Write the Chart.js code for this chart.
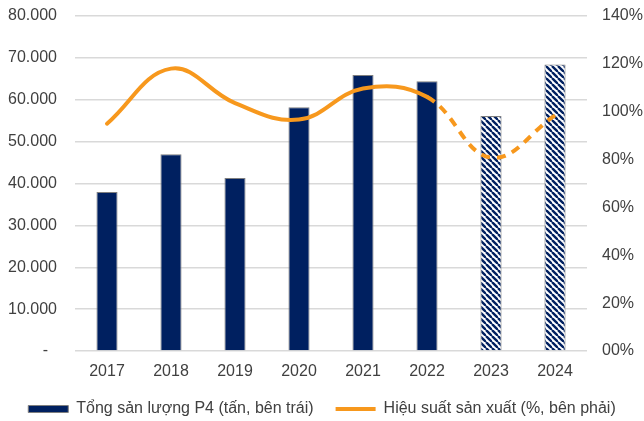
<!DOCTYPE html>
<html>
<head>
<meta charset="utf-8">
<script src="https://cdn.jsdelivr.net/npm/chart.js@4"></script>
<style>
  html, body { margin: 0; padding: 0; background: #fff; }
  #wrap { width: 644px; height: 421px; }
</style>
</head>
<body>
<div id="wrap"><canvas id="myChart"></canvas></div>
<script>
const years = ['2017', '2018', '2019', '2020', '2021', '2022', '2023', '2024'];
const output = [38000, 47000, 41300, 58200, 65900, 64400, 56100, 68400];
const efficiency = [95, 118, 103.6, 96.7, 109.7, 106.2, 80.8, 98.5];
const forecastFrom = 6; // 2023 onwards are forecast (hatched bars, dashed line)

const navy = '#002060';
const orange = '#F7981D';

function makeHatch() {
    const c = document.createElement('canvas');
    c.width = 6; c.height = 6;
    const g = c.getContext('2d');
    g.fillStyle = '#fff';
    g.fillRect(0, 0, 6, 6);
    g.strokeStyle = navy;
    g.lineWidth = 2.4;
    for (const o of [-6, 0, 6]) {
        g.beginPath();
        g.moveTo(o, 0);
        g.lineTo(o + 6, 6);
        g.stroke();
    }
    return g.createPattern(c, 'repeat');
}
const hatch = makeHatch();

Chart.defaults.font.family = '"Liberation Sans", Arial, sans-serif';
Chart.defaults.color = '#404040';

// y axes: fixed width, and drop the extra label padding Chart.js adds above/below
const fixAxis = w => s => {
    s.width = w;
    s.paddingTop = 0;
    s.paddingBottom = 0;
};

const data = {
    labels: years,
    datasets: [
        {
            type: 'bar',
            label: 'Tổng sản lượng P4 (tấn, bên trái)',
            data: output,
            yAxisID: 'y',
            order: 1,
            backgroundColor: output.map((v, i) => i >= forecastFrom ? hatch : navy),
            borderColor: '#7f7f7f',
            borderWidth: 1,
            categoryPercentage: 1,
            barPercentage: 0.33,
            pointStyle: 'rect',
        },
        {
            type: 'line',
            label: 'Hiệu suất sản xuất (%, bên phải)',
            data: efficiency,
            yAxisID: 'y1',
            order: 0,
            borderColor: orange,
            backgroundColor: orange,
            borderWidth: 4,
            tension: 0.4,
            pointRadius: 0,
            pointStyle: 'line',
            borderCapStyle: 'round',
            segment: {
                borderDash: ctx => ctx.p0DataIndex >= forecastFrom - 1 ? [9, 7] : undefined,
                borderCapStyle: ctx => ctx.p0DataIndex >= forecastFrom - 1 ? 'butt' : 'round',
            },
        },
    ]
};

const config = {
    data: data,
    options: {
        responsive: true,
        maintainAspectRatio: false,
        animation: false,
        layout: { padding: { top: 16, left: 0, right: 0, bottom: -6 } },
        plugins: {
            tooltip: { enabled: false },
            legend: {
                position: 'bottom',
                labels: {
                    usePointStyle: true,
                    pointStyleWidth: 40,
                    boxHeight: 7,
                    padding: 22,
                    font: { size: 16 },
                    color: '#404040',
                    sort: (a, b) => a.datasetIndex - b.datasetIndex,
                }
            }
        },
        scales: {
            x: {
                grid: { display: false, drawTicks: false },
                border: { display: false },
                ticks: { font: { size: 16 }, padding: 11, color: '#404040' },
                afterFit: s => { s.height = 28; },
            },
            y: {
                position: 'left',
                min: 0,
                max: 80000,
                grid: { color: '#d9d9d9', lineWidth: 1.5, drawTicks: false },
                border: { display: false },
                ticks: {
                    stepSize: 10000,
                    padding: 18,
                    font: { size: 16 },
                    color: '#404040',
                    callback: v => v === 0 ? '-  ' : (v / 1000) + '.000',
                },
                afterFit: fixAxis(75),
            },
            y1: {
                position: 'right',
                min: 0,
                max: 140,
                grid: { display: false, drawTicks: false },
                border: { display: false },
                ticks: {
                    stepSize: 20,
                    padding: 15,
                    font: { size: 16 },
                    color: '#404040',
                    callback: v => v === 0 ? '00%' : v + '%',
                },
                afterFit: fixAxis(57),
            }
        }
    },
};

const myChart = new Chart(document.getElementById('myChart'), config);
</script>
</body>
</html>
